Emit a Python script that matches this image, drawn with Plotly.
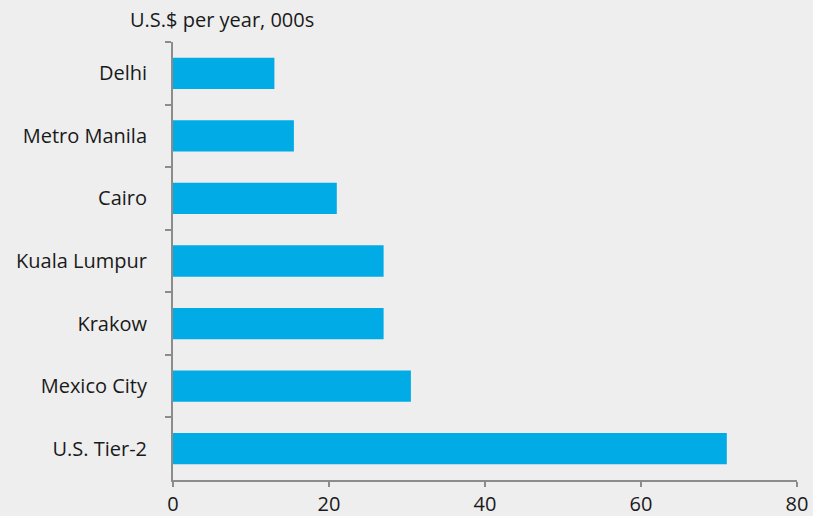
import plotly.graph_objects as go

cities = ["Delhi", "Metro Manila", "Cairo", "Kuala Lumpur", "Krakow", "Mexico City", "U.S. Tier-2"]
salaries = [13.0, 15.5, 21.0, 27.0, 27.0, 30.5, 71.0]
x_ticks = [0, 20, 40, 60, 80]
title_text = "U.S.$ per year, 000s"

bg = "#EEEEEE"
axis_col = "#8C8C8C"
font_fam = "Open Sans, Noto Sans, sans-serif"
fs = 20

fig = go.Figure(go.Bar(
    x=salaries, y=cities, orientation="h", width=0.5,
    marker=dict(color="#00ABE6", line=dict(width=0)),
))

fig.update_layout(
    width=813, height=516,
    margin=dict(l=173, r=16, t=42, b=36),
    paper_bgcolor=bg, plot_bgcolor=bg,
    showlegend=False,
    font=dict(family=font_fam, size=fs, color="#1A1A1A"),
    xaxis=dict(
        range=[0, 80], tickvals=x_ticks, showgrid=False, zeroline=False,
        showline=True, linecolor=axis_col, linewidth=2,
        ticks="outside", ticklen=5, tickwidth=2, tickcolor=axis_col,
        tickfont=dict(size=fs, color="#1A1A1A"), automargin=False,
    ),
    yaxis=dict(
        type="category", categoryorder="array", categoryarray=cities,
        range=[6.5, -0.5], showgrid=False, zeroline=False,
        showline=True, linecolor=axis_col, linewidth=2,
        ticks="outside", ticklen=6, tickwidth=2, tickcolor=axis_col,
        tickson="boundaries", ticklabelstandoff=20,
        tickfont=dict(size=fs, color="#1A1A1A"), automargin=False,
    ),
    annotations=[dict(
        text=title_text, xref="paper", yref="paper",
        x=(128 - 173) / 624, y=(480 - 20) / 438,
        xanchor="left", yanchor="middle", showarrow=False,
        font=dict(size=fs, color="#1A1A1A"),
    )],
)

fig.write_html("out.html")
